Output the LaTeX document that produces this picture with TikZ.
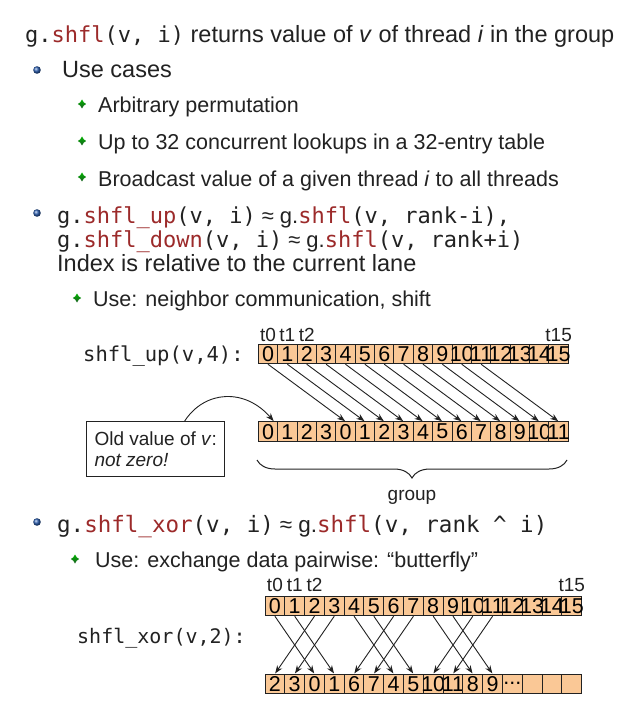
\documentclass[tikz,border=0pt]{standalone}
\usepackage{fontspec}
\setmainfont{Liberation Sans}
\newfontfamily\codefont{DejaVu Sans Mono}
\usetikzlibrary{arrows.meta,decorations.pathreplacing,calc}
\definecolor{shred}{HTML}{9C2A2A}
\definecolor{ink}{HTML}{222222}
\definecolor{cellfill}{HTML}{FAC896}
\definecolor{bblue}{HTML}{2A5DB0}
\definecolor{bgreen}{HTML}{2E9B3A}
\newcommand\setfs[1]{\fontsize{#1}{#1}\selectfont}
\newcommand\shf{\textcolor{shred}{shfl}}
\newcommand\tdots{.{}.{}.}
\newcommand\apx{\hspace{6pt}≈\hspace{6pt}g.}
\tikzset{
  cell/.style={draw=ink, line width=1pt, fill=cellfill, minimum width=19.375pt, minimum height=19.5pt, inner sep=0pt, font=\setfs{21.5}},
  xcell/.style={cell, minimum width=19.79pt, minimum height=19pt},
  arr/.style={draw=ink, line width=0.9pt, -{Stealth[length=8pt,width=6pt]}, shorten >=0.5pt},
  tl/.style={font=\setfs{19}, anchor=base, text=ink},
  txt/.style={anchor=base west, inner sep=0pt, text=ink},
  bluebullet/.pic={\shade[ball color=bblue] (0,0) circle (3.8);},
  greenbullet/.pic={\shade[top color=green!70!black, bottom color=bgreen!60!black] (0,-4.5) -- (1.7,-1.7) -- (4.2,0) -- (1.7,1.7) -- (0,4.5) -- (-1.7,1.7) -- (-4.2,0) -- (-1.7,-1.7) -- cycle;},
}
\begin{document}
\begin{tikzpicture}[x=1pt,y=-1pt]
\useasboundingbox[fill=white] (0,0) rectangle (634,714);
% bullets
\pic at (37,70) {bluebullet};
\pic at (37,213) {bluebullet};
\pic at (37,522) {bluebullet};
\pic at (82,104) {greenbullet};
\pic at (82,141) {greenbullet};
\pic at (82,177) {greenbullet};
\pic at (77,298) {greenbullet};
\pic at (75,559) {greenbullet};
% texts
\node[txt] (l1) at (25,43) {\setfs{23.5}{\codefont\setfs{22}g.\shf(v, i)} returns value of \textit{v} of thread \textit{i} in the group};
\node[txt] (uc) at (62,78) {\setfs{23.5}Use cases};
\node[txt] (s1) at (98,113) {\setfs{21.5}Arbitrary permutation};
\node[txt] (s2) at (98,150) {\setfs{21.5}Up to 32 concurrent lookups in a 32-entry table};
\node[txt] (s3) at (98,186) {\setfs{21.5}Broadcast value of a given thread \textit{i} to all threads};
\node[txt] (c1) at (57,223) {\setfs{22}{\codefont g.\textcolor{shred}{shfl\_up}(v, i)}\apx{\codefont\shf(v, rank-i),}};
\node[txt] (c2) at (57,247) {\setfs{22}{\codefont g.\textcolor{shred}{shfl\_down}(v, i)}\apx{\codefont\shf(v, rank+i)}};
\node[txt] (c3) at (57,271) {\setfs{23.5}Index is relative to the current lane};
\node[txt] (s4) at (93,306) {\setfs{21.5}Use: neighbor communication, shift};
\node[txt] (upl) at (83,361) {\codefont\setfs{20.5}shfl\_up(v,4):};
\node[txt] (c4) at (57,532) {\setfs{22.5}{\codefont g.\textcolor{shred}{shfl\_xor}(v, i)}\apx{\codefont\shf(v, rank \textasciicircum{} i)}};
\node[txt] (s5) at (95,567) {\setfs{21.5}Use: exchange data pairwise: “butterfly”};
\node[txt] (xorl) at (77,643) {\codefont\setfs{20}shfl\_xor(v,2):};
% shfl_up rows
\foreach \i in {0,...,15} {
  \node[cell] (ut\i) at ({267.99+19.375*\i},354) {\makebox[0pt]{\i}};
}
\foreach \i/\v in {0/0,1/1,2/2,3/3,4/0,5/1,6/2,7/3,8/4,9/5,10/6,11/7,12/8,13/9,14/10,15/11} {
  \node[cell] (ub\i) at ({267.99+19.375*\i},431.7) {\makebox[0pt]{\v}};
}
\node[tl] (utl0) at ($(ut0.north)+(0,-2.6)$) {t0};
\node[tl] (utl1) at ($(ut1.north)+(0,-2.6)$) {t1};
\node[tl] (utl2) at ($(ut2.north)+(0,-2.6)$) {t2};
\node[tl] (utl15) at ($(ut15.north)+(0,-2.6)$) {t15};
\foreach \i [evaluate=\i as \j using int(\i+4)] in {0,...,11} {
  \draw[arr] (ut\i.south) -- (ub\j.north);
}
% old value box
\node[draw=ink, line width=1pt, anchor=north west, minimum width=136pt, minimum height=55pt, inner xsep=8pt, inner ysep=0pt, align=left, text=ink, font=\fontsize{19}{20.5}\selectfont] (old) at (86,421) {Old value of \textit{v}:\\\textit{not zero!}};
\draw[arr] ([xshift=29pt]old.north) .. controls (205,390) and (245,388) .. ([xshift=6pt]ub0.north);
% brace
\coordinate (bl) at (257,460);
\coordinate (br) at (567,460);
\draw[ink, line width=1pt, decorate, decoration={brace, mirror, amplitude=18pt}] (bl) -- (br);
\node[txt, anchor=base] (grp) at (412,500) {\setfs{19}group};
% shfl_xor rows
\foreach \i in {0,...,15} {
  \node[xcell] (xt\i) at ({274.9+19.79*\i},606.2) {\makebox[0pt]{\i}};
}
\foreach \i/\v in {0/2,1/3,2/0,3/1,4/6,5/7,6/4,7/5,8/10,9/11,10/8,11/9,12/\tdots,13/{},14/{},15/{}} {
  \node[xcell] (xb\i) at ({274.9+19.79*\i},683.8) {\makebox[0pt]{\v}};
}
\node[tl] (xtl0) at ($(xt0.north)+(0,-5)$) {t0};
\node[tl] (xtl1) at ($(xt1.north)+(0,-5)$) {t1};
\node[tl] (xtl2) at ($(xt2.north)+(0,-5)$) {t2};
\node[tl] (xtl15) at ($(xt15.north)+(0,-5)$) {t15};
\foreach \i/\j in {0/2,1/3,2/0,3/1,4/6,5/7,6/4,7/5,8/10,9/11,10/8,11/9} {
  \draw[arr] (xt\i.south) -- (xb\j.north);
}
\end{tikzpicture}
\end{document}
